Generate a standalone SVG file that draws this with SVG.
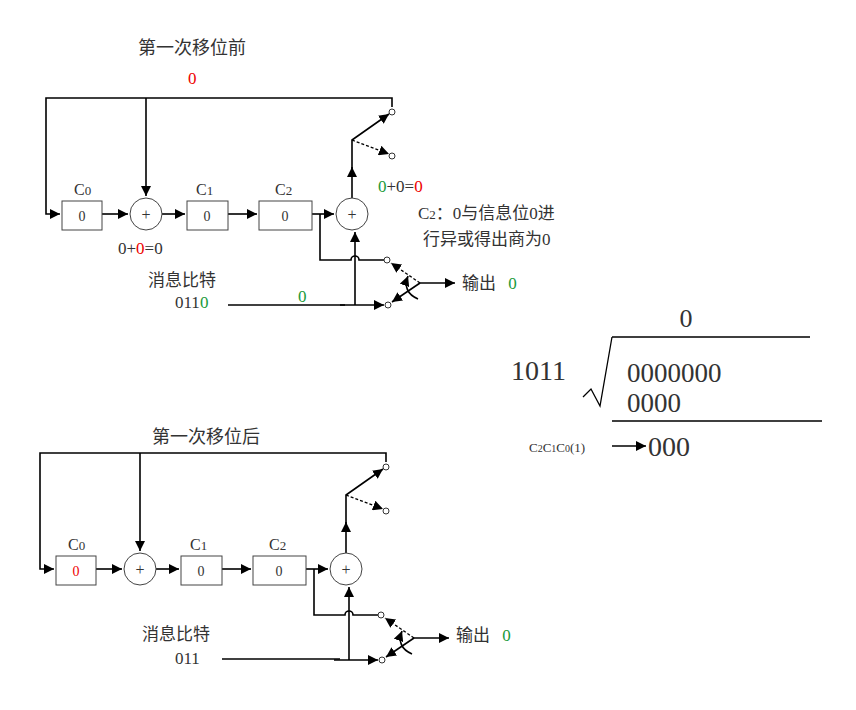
<svg xmlns="http://www.w3.org/2000/svg" xmlns:xlink="http://www.w3.org/1999/xlink" width="856" height="710" viewBox="0 0 856 710">
<defs>
<marker id="a" viewBox="0 0 10 10" refX="10" refY="5" markerWidth="10" markerHeight="10" markerUnits="userSpaceOnUse" orient="auto"><path d="M0,0L10,5L0,10z" fill="#000"/></marker>
<style>
text{font-family:"Liberation Serif","Noto Sans CJK SC",serif;fill:#333}
.l{stroke:#000;stroke-width:1.6;fill:none}
.d{stroke:#000;stroke-width:1.3;fill:none;stroke-dasharray:3,2}
.b{fill:#fff;stroke:#444;stroke-width:1}
.o{fill:#fff;stroke:#333;stroke-width:1}
.r{fill:#e00}
.g{fill:#1a9a3a}
</style>
<g id="wires">
<path class="l" d="M392,107V98H46V214H60" marker-end="url(#a)"/>
<path class="l" d="M146,98V196" marker-end="url(#a)"/>
<path class="l" d="M102,214H128" marker-end="url(#a)"/>
<path class="l" d="M162,214H185" marker-end="url(#a)"/>
<path class="l" d="M228,214H257" marker-end="url(#a)"/>
<path class="l" d="M312,214H334" marker-end="url(#a)"/>
<path class="l" d="M320,214V260H351A4,4 0 0 1 359,260H384"/>
<path class="l" d="M355,305V232" marker-end="url(#a)"/>
<path class="l" d="M340,305H384" marker-end="url(#a)"/>
<path class="l" d="M352,198V167" marker-end="url(#a)"/>
<path class="l" d="M352,170V140L389,114" marker-end="url(#a)"/>
<path class="d" d="M352,140L389,154" marker-end="url(#a)"/>
<path class="l" d="M420,283H455" marker-end="url(#a)"/>
<path class="d" d="M420,283L391,263" marker-end="url(#a)"/>
<path class="l" d="M420,283L392,302" marker-end="url(#a)"/>
<path class="l" d="M418,299Q402,292 408,276" marker-end="url(#a)"/>
</g>
<g id="shapes">
<rect class="b" x="62" y="201" width="40" height="29"/>
<circle class="b" cx="146" cy="214" r="16"/>
<text x="146" y="220" font-size="16" text-anchor="middle">+</text>
<rect class="b" x="187" y="201" width="41" height="29"/>
<text x="207" y="221" font-size="14" text-anchor="middle">0</text>
<rect class="b" x="259" y="201" width="53" height="29"/>
<text x="285" y="221" font-size="14" text-anchor="middle">0</text>
<circle class="b" cx="352" cy="214" r="16"/>
<text x="352" y="220" font-size="16" text-anchor="middle">+</text>
<circle class="o" cx="392" cy="112" r="3"/>
<circle class="o" cx="392" cy="156" r="3"/>
<circle class="o" cx="387" cy="260" r="3"/>
<circle class="o" cx="388" cy="305" r="3"/>
<text x="74" y="195" font-size="16">C<tspan font-size="13">0</tspan></text>
<text x="196" y="195" font-size="16">C<tspan font-size="13">1</tspan></text>
<text x="275" y="195" font-size="16">C<tspan font-size="13">2</tspan></text>
</g>
</defs>
<g id="circuit1">
<use xlink:href="#wires"/>
<path class="l" d="M228,305H345"/>
<use xlink:href="#shapes"/>
<text x="82" y="221" font-size="14" text-anchor="middle">0</text>
</g>
<g id="circuit2" transform="translate(-6,355)">
<use xlink:href="#wires"/>
<use xlink:href="#shapes"/>
<text x="82" y="221" font-size="14" text-anchor="middle" class="r">0</text>
</g>
<g id="labels" font-size="17">
<text x="138" y="54" font-size="18">第一次移位前</text>
<text x="188" y="84" class="r">0</text>
<text x="118" y="254">0+<tspan class="r">0</tspan>=0</text>
<text x="378" y="192"><tspan class="g">0</tspan>+0=<tspan class="r">0</tspan></text>
<text x="418" y="219">C<tspan font-size="13">2</tspan>：0与信息位0进</text>
<text x="423" y="245">行异或得出商为0</text>
<text x="148" y="286">消息比特</text>
<text x="175" y="308">011<tspan class="g">0</tspan></text>
<text x="298" y="302" class="g">0</text>
<text x="462" y="289">输出 <tspan class="g" dx="8">0</tspan></text>
<text x="152" y="443" font-size="18">第一次移位后</text>
<text x="142" y="640">消息比特</text>
<text x="175" y="664">011</text>
<path class="l" d="M222,659H340"/>
<text x="456" y="641">输出 <tspan class="g" dx="8">0</tspan></text>
</g>
<g id="division">
<text x="686" y="327" font-size="26" text-anchor="middle" fill="#000">0</text>
<path d="M612,337H810M583,397L591,389L600,406L612,337M612,421H822" stroke="#000" stroke-width="1.3" fill="none"/>
<text x="511" y="380" font-size="28" fill="#000">1011</text>
<text x="627" y="382" font-size="27" fill="#000">0000000</text>
<text x="627" y="412" font-size="27" fill="#000">0000</text>
<text x="529" y="452" font-size="13">C<tspan font-size="10">2</tspan>C<tspan font-size="10">1</tspan>C<tspan font-size="10">0</tspan>(1)</text>
<path class="l" d="M612,446H646" marker-end="url(#a)"/>
<text x="648" y="456" font-size="28" fill="#000">000</text>
</g>
</svg>
